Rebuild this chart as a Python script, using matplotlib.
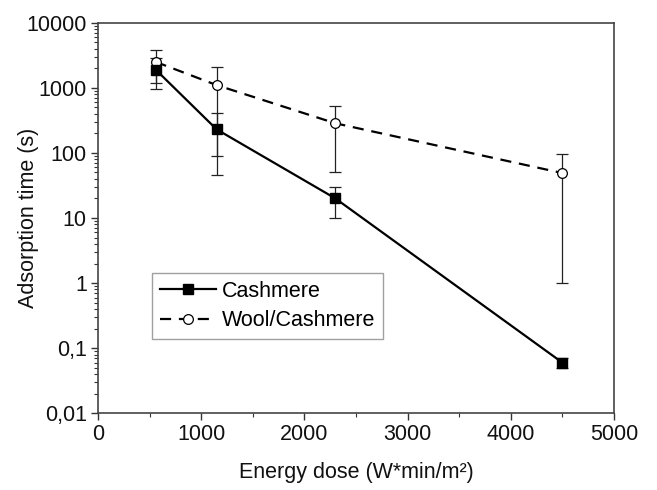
import matplotlib
matplotlib.use("Agg")
import matplotlib.pyplot as plt
from matplotlib.ticker import FixedLocator, FuncFormatter, LogLocator, MultipleLocator

plt.rcParams['font.family'] = ['Liberation Sans', 'DejaVu Sans']

dose = [560, 1150, 2300, 4500]
cashmere = [1900, 230, 20, 0.06]
cashmere_err = [950, 185, 10, 0.01]
wool = [2500, 1100, 285, 49]
wool_err = [1300, 1010, 235, 48]

ytick_vals = [0.01, 0.1, 1, 10, 100, 1000, 10000]
ytick_labels = ['0,01', '0,1', '1', '10', '100', '1000', '10000']

fig = plt.figure(figsize=(6.57, 4.90), dpi=100)
ax = fig.add_axes([0.149, 0.1565, 0.7856, 0.7972])

# error bars first, thin
ax.errorbar(dose, wool, yerr=wool_err, fmt='none', ecolor='#222222',
            elinewidth=0.9, capsize=4, capthick=0.9, zorder=2)
ax.errorbar(dose, cashmere, yerr=cashmere_err, fmt='none', ecolor='#222222',
            elinewidth=0.9, capsize=4, capthick=0.9, zorder=2)

ax.plot(dose, wool, color='black', linestyle=(0, (5, 3.5)), linewidth=1.6,
        marker='o', markersize=7, markerfacecolor='white',
        markeredgecolor='black', markeredgewidth=0.9,
        label='Wool/Cashmere', zorder=3)
ax.plot(dose, cashmere, color='black', linestyle='-', linewidth=1.6,
        marker='s', markersize=6.5, markerfacecolor='black',
        markeredgecolor='black', label='Cashmere', zorder=4)

ax.set_yscale('log')
ax.set_ylim(0.01, 10000)
ax.set_xlim(0, 5000)

ax.yaxis.set_major_locator(FixedLocator(ytick_vals))
ax.yaxis.set_major_formatter(FuncFormatter(
    lambda v, p: ytick_labels[ytick_vals.index(min(ytick_vals, key=lambda t: abs(t - v)))]))
ax.yaxis.set_minor_locator(LogLocator(base=10, subs=range(2, 10), numticks=20))
ax.yaxis.set_minor_formatter(FuncFormatter(lambda v, p: ''))
ax.xaxis.set_major_locator(MultipleLocator(1000))
ax.xaxis.set_minor_locator(MultipleLocator(500))

for s in ax.spines.values():
    s.set_color('#444444')
    s.set_linewidth(1.2)

ax.tick_params(which='major', direction='out', length=5, width=1, color='#333333',
               labelsize=15.5, labelcolor='#111111', pad=3)
ax.tick_params(which='minor', direction='out', length=3, width=0.8, color='#333333')

ax.set_xlabel('Energy dose (W*min/m²)', fontsize=15.5, color='#111111')
ax.set_ylabel('Adsorption time (s)', fontsize=15.5, color='#111111')
ax.xaxis.set_label_coords(0.5, -0.125)
ax.yaxis.set_label_coords(-0.115, 0.5)

h, l = ax.get_legend_handles_labels()
leg = ax.legend(h[::-1], l[::-1], loc='upper left', bbox_to_anchor=(0.105, 0.359),
                borderaxespad=0, fontsize=15.5, frameon=True, fancybox=False,
                handlelength=2.6, handletextpad=0.3, borderpad=0.35,
                labelspacing=0.4)
leg.get_frame().set_edgecolor('#888888')
leg.get_frame().set_linewidth(1.0)

fig.savefig('out.png', dpi=100)
